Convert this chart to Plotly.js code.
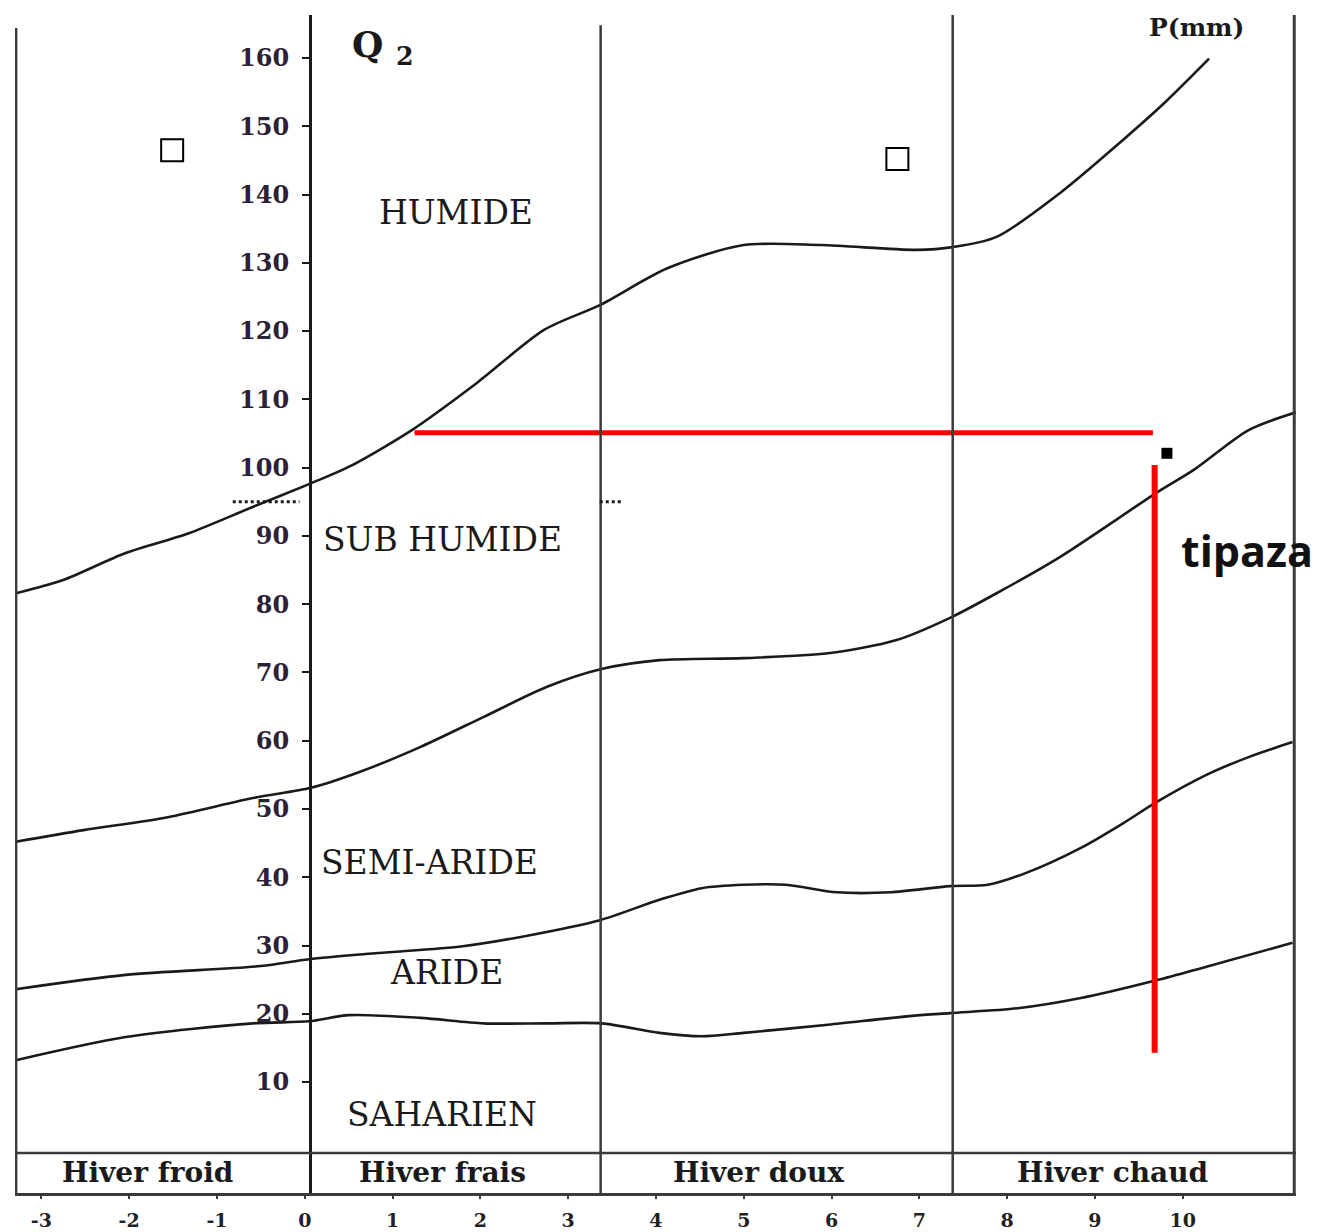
<!DOCTYPE html>
<html>
<head>
<meta charset="utf-8">
<script src="https://cdn.plot.ly/plotly-3.0.1.min.js"></script>
<style>html,body{margin:0;padding:0;background:#fff;}#chart{width:1320px;height:1232px;}</style>
</head>
<body>
<div id="chart"></div>
<script>
// ---- data (m = minimum temperature of coldest month, Q2 = Emberger quotient) ----
const humideM = [-3.29,-2.76,-2.04,-1.32,-0.60,0.07,0.50,1.22,1.96,2.73,3.36,4.13,5.00,5.88,6.97,7.38,7.88,8.60,9.32,9.79,10.30];
const humideQ = [81.6,83.5,87.5,90.4,94.2,97.7,100.1,105.5,112.4,120.2,123.8,129.2,132.6,132.6,131.9,132.3,133.8,140.2,148.0,153.4,159.9];

const subHumideM = [-3.29,-2.52,-1.56,-0.59,0.07,0.60,1.32,2.04,2.76,3.38,4.04,5.00,5.96,6.73,7.35,7.88,8.60,9.70,10.13,10.75,11.29];
const subHumideQ = [45.2,46.9,48.8,51.6,53.1,55.3,59.1,63.5,67.9,70.5,71.8,72.1,72.8,74.7,78.0,81.6,86.9,96.3,99.7,105.5,108.1];

const semiAridM = [-3.29,-2.04,-0.50,0.05,0.84,1.80,2.52,3.36,4.04,4.52,5.00,5.48,6.06,6.67,7.35,7.78,8.21,8.84,9.32,9.70,10.27,10.75,11.25];
const semiAridQ = [23.6,25.7,27.0,28.0,28.9,29.9,31.4,33.7,36.7,38.4,38.9,38.9,37.8,37.8,38.7,38.9,40.6,44.3,47.9,51.0,55.0,57.6,59.8];

const arideM = [-3.29,-2.04,-0.59,0.05,0.50,1.32,2.04,2.76,3.38,4.04,4.52,5.00,5.96,6.92,7.35,8.12,8.84,9.70,10.27,11.25];
const arideQ = [13.2,16.6,18.6,18.9,19.8,19.4,18.6,18.6,18.6,17.2,16.7,17.2,18.4,19.7,20.1,20.8,22.3,24.9,26.9,30.4];

const tipazaM = [9.82];
const tipazaQ = [102.1];
const guideHm = [1.25, 9.66];
const guideHq = [105.1, 105.1];
const guideVm = [9.68, 9.68];
const guideVq = [100.4, 14.3];

const openSquareM = [-1.51, 6.75];
const openSquareQ = [146.5, 145.2];

const xTickVals = [-3,-2,-1,0,1,2,3,4,5,6,7,8,9,10];
const xTickText = ["-3","-2","-1","0","1","2","3","4","5","6","7","8","9","10"];
const yTickVals = [10,20,30,40,50,60,70,80,90,100,110,120,130,140,150,160];

const zoneNames = ["HUMIDE","SUB HUMIDE","SEMI-ARIDE","ARIDE","SAHARIEN"];
const winterNames = ["Hiver froid","Hiver frais","Hiver doux","Hiver chaud"];
const winterBounds = [0.06, 3.37, 7.38];

// ---- layout constants ----
const xMin = -3.30, xMax = 11.29;
const yMin = -6.25, yMax = 166.3;
const bandTop = -0.4;
const serif = "DejaVu Serif, Liberation Serif, serif";
const ink = "#1a1a1a";
const frame = "#3a3a3a";

const curve = (m, q) => ({x: m, y: q, mode: "lines", type: "scatter",
  line: {color: ink, width: 2.6, shape: "spline", smoothing: 0.8}, hoverinfo: "skip", showlegend: false});

const traces = [
  curve(humideM, humideQ),
  curve(subHumideM, subHumideQ),
  curve(semiAridM, semiAridQ),
  curve(arideM, arideQ),
  {x: guideHm, y: guideHq, mode: "lines", line: {color: "#ff0000", width: 5}, showlegend: false},
  {x: guideVm, y: guideVq, mode: "lines", line: {color: "#ff0000", width: 6}, showlegend: false},
  {x: tipazaM, y: tipazaQ, mode: "markers", marker: {symbol: "square", size: 11, color: "#000"}, showlegend: false},
  {x: openSquareM, y: openSquareQ, mode: "markers", marker: {symbol: "square-open", size: 22, color: "#000", line: {width: 2}}, showlegend: false}
];

const shapes = [];
const vline = (x, top, w) => shapes.push({type: "line", xref: "x", yref: "y", x0: x, x1: x, y0: yMin, y1: top, line: {color: frame, width: w}});
vline(-3.29, 164.4, 3);
vline(winterBounds[1], 164.8, 2.5);
vline(winterBounds[2], 166.3, 2.5);
vline(11.27, 166.3, 3);
shapes.push({type: "line", xref: "x", yref: "y", x0: xMin, x1: xMax, y0: bandTop, y1: bandTop, line: {color: frame, width: 2.5}});
shapes.push({type: "line", xref: "x", yref: "y", x0: -0.82, x1: -0.06, y0: 95, y1: 95, line: {color: ink, width: 3, dash: "dot"}});
shapes.push({type: "line", xref: "x", yref: "y", x0: 3.36, x1: 3.61, y0: 95, y1: 95, line: {color: ink, width: 3, dash: "dot"}});

const ann = [];
const zonePos = [[1.72,137.4],[1.57,89.5],[1.42,42.1],[1.61,26.1],[1.56,5.2]];
zoneNames.forEach((t, i) => ann.push({x: zonePos[i][0], y: zonePos[i][1], xref: "x", yref: "y", text: t, showarrow: false,
  font: {family: serif, size: 33, color: ink}}));
const winterPos = [-1.79, 1.57, 5.17, 9.20];
winterNames.forEach((t, i) => ann.push({x: winterPos[i], y: -3.3, xref: "x", yref: "y", text: t, showarrow: false,
  font: {family: serif, size: 28, color: ink, weight: "bold"}}));
ann.push({x: 0.52, y: 161.6, xref: "x", yref: "y", xanchor: "left", text: "Q <sub>2</sub>", showarrow: false,
  font: {family: serif, size: 36, color: ink, weight: "bold"}});
ann.push({x: 10.16, y: 164.4, xref: "x", yref: "y", text: "P(mm)", showarrow: false,
  font: {family: serif, size: 25, color: ink, weight: "bold"}});
ann.push({x: 10.73, y: 87.9, xref: "x", yref: "y", text: "tipaza", showarrow: false, xanchor: "center",
  font: {family: "Open Sans, Noto Sans, sans-serif", size: 43, color: "#111", weight: "bold"}});

const yAxisPos = (0.06 - xMin) / (xMax - xMin);

const layout = {
  width: 1320, height: 1232,
  margin: {l: 15, r: 24, t: 15, b: 39},
  paper_bgcolor: "#fff", plot_bgcolor: "#fff",
  showlegend: false,
  xaxis: {range: [xMin, xMax], showgrid: false, zeroline: false, showline: true, linecolor: frame, linewidth: 2.5,
    tickvals: xTickVals, ticktext: xTickText, ticks: "outside", ticklen: 3, tickwidth: 2, tickcolor: frame,
    ticklabelstandoff: 6, tickfont: {family: serif, size: 19, color: "#222", weight: "bold"}, automargin: false},
  yaxis: {range: [yMin, yMax], showgrid: false, zeroline: false, anchor: "free", position: yAxisPos,
    showline: true, linecolor: ink, linewidth: 2.5, tickvals: yTickVals, ticks: "outside", ticklen: 7, tickwidth: 2,
    tickcolor: ink, ticklabelstandoff: 8, tickfont: {family: serif, size: 24, color: "#2a2238", weight: "bold"}, automargin: false},
  shapes: shapes,
  annotations: ann
};

Plotly.newPlot("chart", traces, layout, {displayModeBar: false, staticPlot: true});
</script>
</body>
</html>
